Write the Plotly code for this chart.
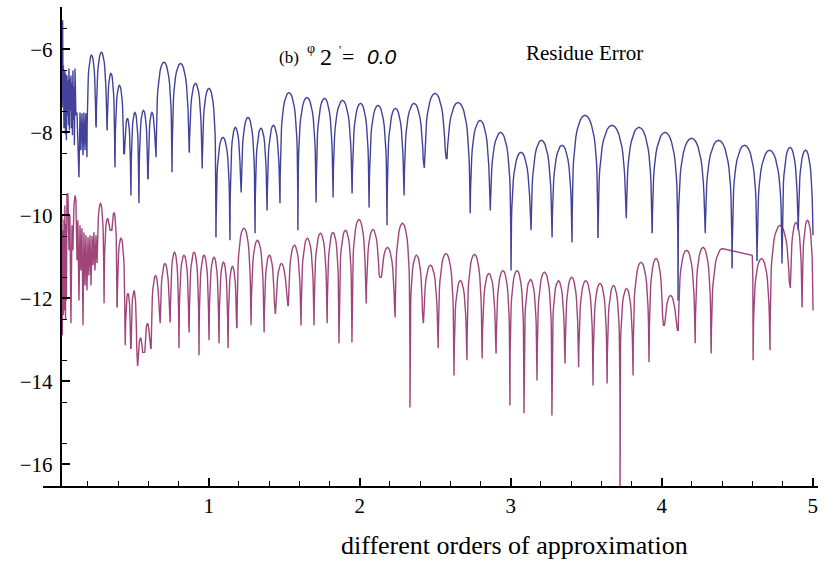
import numpy as np
import plotly.graph_objects as go

# ---------------- data ----------------
# Blue series: dense start, then arches between cusps
blue_noise_x = [0.030, 0.033, 0.036, 0.038, 0.042, 0.045, 0.048, 0.052, 0.055, 0.058, 0.062, 0.065, 0.068,
                0.072, 0.075, 0.078, 0.081, 0.085, 0.088, 0.091, 0.095, 0.098, 0.101, 0.105, 0.108, 0.111,
                0.115, 0.121, 0.128, 0.134, 0.141, 0.148, 0.154, 0.161, 0.168, 0.174, 0.181, 0.187]
blue_noise_y = [-7.40, -5.30, -7.23, -6.39, -7.90, -7.71, -6.51, -8.05, -6.60, -8.19, -6.63, -7.60, -6.75,
                -7.83, -6.46, -7.95, -6.70, -7.47, -6.63, -7.90, -6.80, -8.07, -6.51, -7.70, -6.90, -8.31,
                -6.46, -7.59, -7.52, -8.19, -9.08, -7.52, -8.43, -7.54, -8.55, -7.52, -8.43, -7.54]
blue_cusp_x = [0.194, 0.254, 0.326, 0.379, 0.439, 0.485, 0.538, 0.598, 0.651, 0.757, 0.870, 0.956, 1.048,
               1.141, 1.214, 1.307, 1.386, 1.472, 1.591, 1.711, 1.823, 1.949, 2.062, 2.181, 2.293, 2.426,
               2.572, 2.731, 2.863, 3.002, 3.134, 3.273, 3.406, 3.578, 3.764, 3.936, 4.108, 4.287, 4.466,
               4.631, 4.797, 4.903, 5.002]
blue_cusp_y = [-8.60, -7.88, -7.95, -8.84, -8.51, -9.52, -9.71, -9.11, -8.60, -8.96, -8.48, -8.87, -10.53,
               -10.60, -9.45, -10.43, -9.88, -9.71, -10.36, -9.69, -9.57, -9.47, -9.81, -10.24, -9.52, -8.84,
               -8.63, -9.95, -9.88, -11.33, -10.36, -10.53, -10.65, -10.53, -10.07, -10.43, -12.05, -10.43,
               -11.28, -11.08, -11.16, -10.36, -10.48]
blue_peak_y = [-6.14, -6.07, -6.58, -6.87, -7.66, -7.52, -7.47, -7.52, -6.31, -6.34, -6.82, -6.94, -8.12,
               -7.88, -7.64, -7.90, -7.83, -7.04, -7.16, -7.18, -7.23, -7.30, -7.35, -7.42, -7.30, -7.06,
               -7.28, -7.71, -8.00, -8.48, -8.19, -8.31, -7.59, -7.83, -7.88, -8.00, -8.14, -8.19, -8.31,
               -8.43, -8.36, -8.43]

# Purple series
purple_noise_x = [0.028, 0.031, 0.035, 0.038, 0.042, 0.045, 0.048, 0.052, 0.055, 0.058, 0.062, 0.068,
                  0.075, 0.081, 0.088, 0.095, 0.101, 0.108, 0.115, 0.121, 0.128, 0.134, 0.141, 0.148,
                  0.154, 0.161, 0.168, 0.174, 0.181, 0.187, 0.194, 0.201, 0.207, 0.214, 0.221, 0.228,
                  0.234, 0.240, 0.247, 0.254]
purple_noise_y = [-10.00, -12.89, -10.36, -12.40, -10.10, -12.29, -9.76, -12.50, -10.20, -12.05, -9.52,
                  -9.47, -10.84, -10.00, -12.60, -10.24, -10.84, -9.76, -9.52, -9.64, -11.08, -10.12,
                  -12.05, -10.24, -11.33, -10.31, -12.65, -10.41, -11.69, -10.48, -11.81, -10.53, -11.45,
                  -10.48, -11.69, -10.50, -11.20, -10.41, -11.33, -10.48]
purple_cusp_x = [0.260, 0.307, 0.353, 0.393, 0.446, 0.485, 0.525, 0.572, 0.618, 0.677, 0.744, 0.803, 0.870,
                 0.936, 1.002, 1.068, 1.128, 1.187, 1.280, 1.366, 1.439, 1.525, 1.611, 1.697, 1.784, 1.863,
                 1.949, 2.042, 2.134, 2.234, 2.333, 2.419, 2.519, 2.624, 2.710, 2.810, 2.902, 2.995, 3.088,
                 3.174, 3.273, 3.359, 3.449, 3.545, 3.638, 3.724, 3.810, 3.916, 4.009, 4.108, 4.221, 4.327,
                 4.605, 4.717, 4.850, 4.929, 5.002]
purple_cusp_y = [-11.13, -12.12, -10.36, -12.22, -13.13, -13.20, -13.61, -13.30, -13.20, -12.60, -12.58,
                 -13.20, -12.82, -13.37, -13.01, -13.08, -13.20, -12.70, -12.65, -12.82, -12.36, -12.17,
                 -12.65, -12.65, -12.60, -13.08, -13.06, -12.12, -11.49, -12.46, -14.63, -12.60, -13.20,
                 -13.86, -13.49, -13.45, -13.33, -14.58, -14.77, -13.98, -14.82, -13.57, -13.66, -14.10,
                 -14.05, -16.80, -13.86, -13.54, -12.65, -12.77, -13.08, -13.33, -13.49, -13.25, -11.73,
                 -12.22, -12.29]
purple_peak_y = [-9.71, -10.07, -9.93, -10.55, -11.88, -11.81, -12.96, -12.60, -11.45, -11.16, -10.89,
                 -10.96, -10.89, -10.96, -11.01, -11.13, -11.23, -10.31, -10.60, -10.96, -11.16, -10.72,
                 -10.55, -10.43, -10.41, -10.36, -10.10, -10.34, -10.77, -10.19, -10.96, -11.20, -10.92,
                 -11.57, -10.94, -11.40, -11.33, -11.33, -11.54, -11.37, -11.57, -11.49, -11.57, -11.64,
                 -11.69, -11.76, -11.13, -11.04, -11.93, -10.84, -10.77, -10.80, -11.04, -10.24, -10.17,
                 -10.12]
# straight (unsampled) stretch of the purple curve: arch index, end x, end y
purple_plateau_arch = 51
purple_plateau_x = [4.400, 4.599]
purple_plateau_y = [-10.80, -10.96]

x_tick_vals = [1, 2, 3, 4, 5]
y_tick_vals = [-16, -14, -12, -10, -8, -6]

# ---------------- arch rendering (style of the mark) ----------------
tt = np.array([0.003, 0.008, 0.015, 0.025, 0.04, 0.06, 0.085, 0.115, 0.15, 0.2, 0.26, 0.33, 0.41, 0.5])
drop = -1.5 * np.log10(np.sin(np.pi * tt))


def build(noise_x, noise_y, cx, cy, peaks, plateau=None):
    xs, ys = list(noise_x), list(noise_y)
    for i in range(len(peaks)):
        xa, xb, da, db, P = cx[i], cx[i + 1], cy[i], cy[i + 1], peaks[i]
        xs.append(xa)
        ys.append(da)
        if plateau is not None and plateau[0] == i:
            x1, x2 = plateau[1]
            P1, P2 = plateau[2]
        else:
            x1 = x2 = (xa + xb) / 2
            P1 = P2 = P
        lx = xa + (tt / 0.5) * (x1 - xa)
        ly = np.maximum(P1 - drop, da)
        rx = (xb - (tt / 0.5) * (xb - x2))[::-1]
        ry = np.maximum(P2 - drop, db)[::-1]
        xs += list(lx)
        ys += list(ly)
        if x1 == x2:
            rx, ry = rx[1:], ry[1:]
        xs += list(rx)
        ys += list(ry)
    xs.append(cx[-1])
    ys.append(cy[-1])
    return xs, ys


bx, by = build(blue_noise_x, blue_noise_y, blue_cusp_x, blue_cusp_y, blue_peak_y)
px, py = build(purple_noise_x, purple_noise_y, purple_cusp_x, purple_cusp_y, purple_peak_y,
               plateau=(purple_plateau_arch, purple_plateau_x, purple_plateau_y))

fig = go.Figure()
fig.add_trace(go.Scatter(x=px, y=py, mode="lines", line=dict(color="#a0457a", width=1.4),
                         showlegend=False, hoverinfo="skip"))
fig.add_trace(go.Scatter(x=bx, y=by, mode="lines", line=dict(color="#42429a", width=1.4),
                         showlegend=False, hoverinfo="skip"))

serif = "Liberation Serif"
tickfont = dict(family=serif, size=21, color="black")

x_minor = [round(0.2 * k, 1) for k in range(1, 25) if k % 5 != 0]
y_minor = [-15.5 + k for k in range(0, 11)]
y_minor = [v for v in y_minor if v % 2 != 0]

fig.update_layout(
    width=823, height=563,
    margin=dict(l=43, r=5, t=7, b=77),
    paper_bgcolor="white", plot_bgcolor="white",
    xaxis=dict(range=[-0.097, 5.035], showgrid=False, zeroline=False, showline=True,
               linecolor="black", linewidth=1.5, ticks="inside", ticklen=8, tickwidth=1.5,
               tickcolor="black", tickvals=x_tick_vals, ticktext=[str(v) for v in x_tick_vals],
               tickfont=tickfont, ticklabelstandoff=0,
               minor=dict(tickvals=x_minor, ticks="inside", ticklen=5, tickwidth=1.2, tickcolor="black")),
    yaxis=dict(range=[-16.52, -4.98], anchor="free", position=0.0226, showgrid=False, zeroline=False,
               showline=True, linecolor="black", linewidth=1.5, ticks="inside", ticklen=9, tickwidth=1.5,
               tickcolor="black", tickvals=y_tick_vals, ticktext=["\u2212" + str(-v) for v in y_tick_vals],
               tickfont=tickfont, ticklabelstandoff=3,
               minor=dict(tickvals=y_minor, ticks="inside", ticklen=6, tickwidth=1.2, tickcolor="black")),
)

ann = [
    dict(text="(b)", x=1.535, y=-6.20, font=dict(family=serif, size=17, color="black")),
    dict(text="\u03c6", x=1.680, y=-5.97, font=dict(family=serif, size=14, color="black")),
    dict(text="2", x=1.775, y=-6.19, font=dict(family=serif, size=24, color="black")),
    dict(text="'", x=1.868, y=-6.02, font=dict(family=serif, size=12, color="black")),
    dict(text="=", x=1.920, y=-6.17, font=dict(family=serif, size=22, color="black")),
    dict(text="<i>0.0</i>", x=2.150, y=-6.17, font=dict(family="Liberation Sans", size=21, color="black")),
    dict(text="Residue Error", x=3.489, y=-6.10, font=dict(family=serif, size=21, color="black")),
]
for a in ann:
    fig.add_annotation(xref="x", yref="y", showarrow=False, xanchor="center", yanchor="middle", **a)

fig.add_annotation(text="different orders of approximation", xref="paper", yref="paper",
                   x=0.609, y=-0.125, showarrow=False, xanchor="center", yanchor="middle",
                   font=dict(family=serif, size=26, color="black"))

fig.write_html("out.html")
